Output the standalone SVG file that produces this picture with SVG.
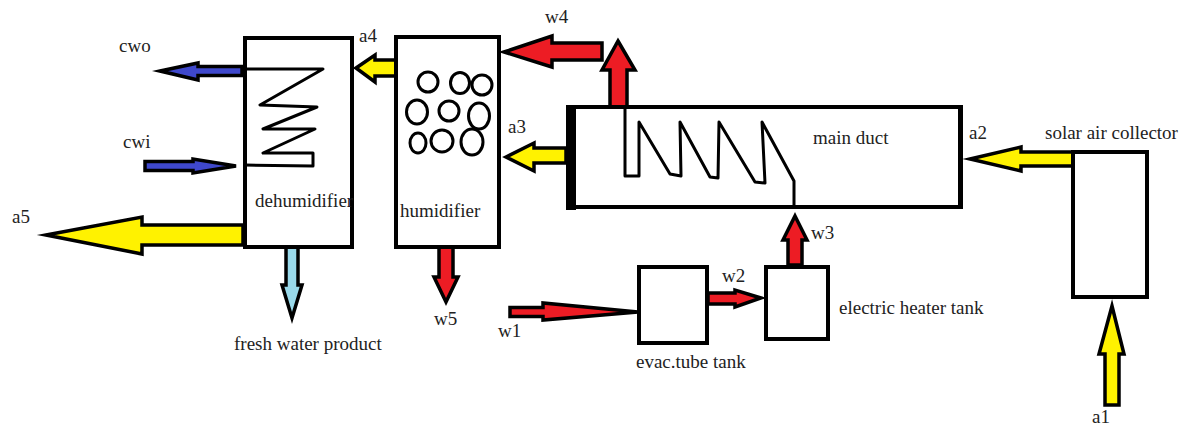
<svg xmlns="http://www.w3.org/2000/svg" width="1185" height="427" viewBox="0 0 1185 427">
<style>
.box{fill:#fff;stroke:#000;stroke-width:4}
.ar{stroke:#000;stroke-width:3.5;stroke-linejoin:miter;stroke-miterlimit:6}
.y{fill:#fff200}.r{fill:#ed1c24}.b{fill:#3f48cc}.c{fill:#99d9ea}
.coil{fill:none;stroke:#000;stroke-width:3;stroke-linejoin:round;stroke-linecap:round}
.bub{fill:#fff;stroke:#000;stroke-width:3}
text{font-family:"Liberation Serif","Times New Roman",serif;font-size:19px;fill:#222}
</style>
<rect width="1185" height="427" fill="#fff"/>
<g id="connectors">
<polygon class="ar b" points="160,71 198,63 198,66.500 242,66.500 242,75.500 198,75.500 198,80"/>
<polygon class="ar b" points="145,161.500 193,161.500 193,159 236,166 193,173 193,170.500 145,170.500"/>
<polygon class="ar y" points="46,235 142,217 142,225 243,225 243,245 142,245 142,254"/>
<polygon class="ar y" points="356,68 375,55 375,60 396,60 396,76 375,76 375,82"/>
<polygon class="ar c" points="286,247 298,247 298,285 302,285 292,318 282,285 286,285"/>
<polygon class="ar r" points="504,52 552,36 552,43 602,43 602,60 552,60 552,67"/>
<polygon class="ar r" points="618,41 635,70 627,70 627,107 610,107 610,70 602,70"/>
<polygon class="ar y" points="506,157 534,143 534,148 566,148 566,163 534,163 534,171"/>
<polygon class="ar r" points="439,247 453,247 453,277 458,277 446,302 434,277 439,277"/>
<polygon class="ar r" points="510,307.500 543,307.500 543,303 638,312 543,320 543,316.500 510,316.500"/>
<polygon class="ar r" points="708,293 735,293 735,290 761,298 735,307 735,304 708,304"/>
<polygon class="ar r" points="795,216 807,240 802,240 802,265 788,265 788,240 783,240"/>
<polygon class="ar y" points="970,159 1021,147 1021,152 1077,152 1077,166 1021,166 1021,171"/>
<polygon class="ar y" points="1112,306 1124,354 1119,354 1119,405 1105,405 1105,354 1099,354"/>
</g>
<g id="dehumidifier">
<rect class="box" x="245" y="38" width="107" height="209"/>
<polyline class="coil" points="247,69 323,69 260,105 317,107 263,129 315,129 263,153 313,153 313,166 245,165"/>
<text x="255" y="207">dehumidifier</text>
</g>
<g id="humidifier">
<rect class="box" x="396" y="37" width="103" height="210"/>
<ellipse class="bub" cx="428" cy="82" rx="10" ry="10"/>
<ellipse class="bub" cx="460" cy="83" rx="9.500" ry="10.500"/>
<ellipse class="bub" cx="482" cy="85" rx="10" ry="10"/>
<ellipse class="bub" cx="417" cy="112" rx="10.500" ry="12"/>
<ellipse class="bub" cx="449" cy="111" rx="10" ry="10"/>
<ellipse class="bub" cx="479" cy="116" rx="10.500" ry="13"/>
<ellipse class="bub" cx="418" cy="143" rx="8" ry="10"/>
<ellipse class="bub" cx="442" cy="141" rx="11" ry="11"/>
<ellipse class="bub" cx="472" cy="142" rx="11" ry="13"/>
<text x="400" y="217">humidifier</text>
</g>
<g id="main-duct">
<rect class="box" x="571" y="107" width="389" height="100"/>
<rect x="566" y="105" width="10" height="105" fill="#000"/>
<rect x="958" y="105" width="5" height="104" fill="#000"/>
<polyline class="coil" points="625,107 625,176 639,176 639,122 670,174 681,176 680,122 710,177 718,178 719,122 755,182 765,183 762,122 794,181 794,207"/>
<text x="813" y="144">main duct</text>
</g>
<g id="evac-tube-tank">
<rect class="box" x="639" y="267" width="68" height="76"/>
<text x="636" y="368">evac.tube tank</text>
</g>
<g id="electric-heater-tank">
<rect class="box" x="766" y="267" width="62" height="72"/>
<text x="839" y="314">electric heater tank</text>
</g>
<g id="solar-air-collector">
<rect class="box" x="1073" y="152" width="74" height="145"/>
<text x="1045" y="139">solar air collector</text>
</g>
<g id="labels">
<text x="119" y="52">cwo</text>
<text x="123" y="148">cwi</text>
<text x="12" y="223">a5</text>
<text x="359" y="42">a4</text>
<text x="234" y="350">fresh water product</text>
<text x="545" y="23">w4</text>
<text x="508" y="133">a3</text>
<text x="434" y="325">w5</text>
<text x="498" y="337">w1</text>
<text x="722" y="282">w2</text>
<text x="969" y="139">a2</text>
<text x="811" y="239">w3</text>
<text x="1092" y="422.500">a1</text>
</g>
</svg>
